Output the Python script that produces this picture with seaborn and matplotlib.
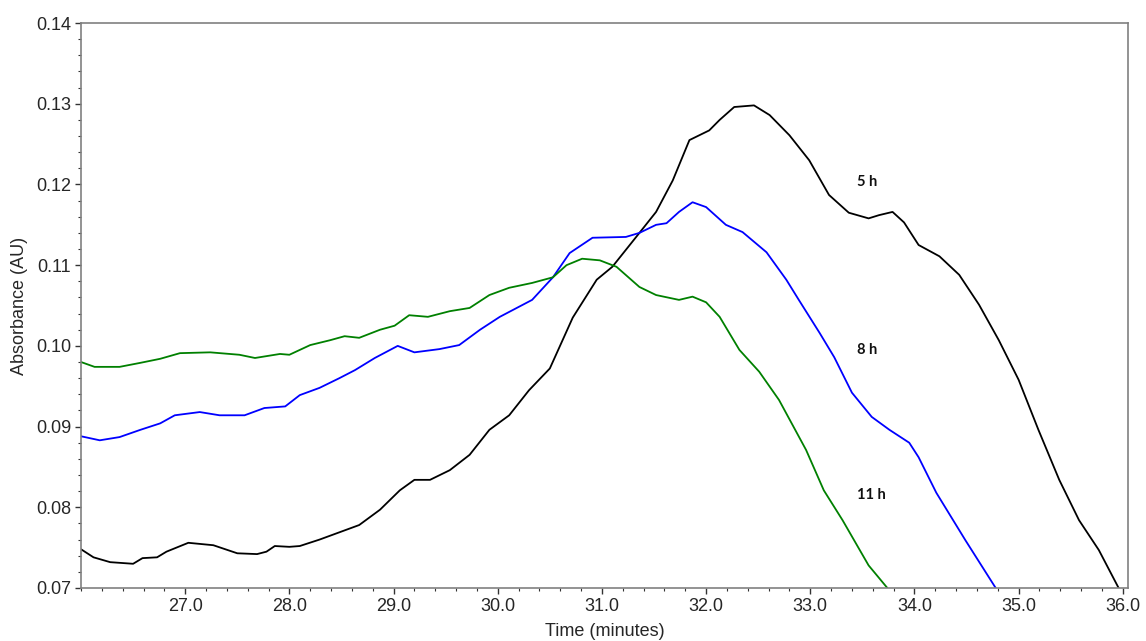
import numpy as np
import pandas as pd
import matplotlib
matplotlib.use("Agg")
import matplotlib.pyplot as plt
from matplotlib.ticker import MultipleLocator, FormatStrFormatter
import seaborn as sns

# Elution profiles (time in minutes, absorbance in AU)
time_5h = [26.00, 26.12, 26.28, 26.50, 26.59, 26.73, 26.82, 27.03, 27.27, 27.50,
           27.69, 27.78, 27.86, 28.00, 28.10, 28.29, 28.48, 28.67, 28.87, 29.06,
           29.20, 29.35, 29.54, 29.73, 29.92, 30.11, 30.30, 30.50, 30.72, 30.95,
           31.10, 31.36, 31.52, 31.68, 31.84, 32.03, 32.13, 32.27, 32.46, 32.61,
           32.80, 32.99, 33.18, 33.37, 33.56, 33.66, 33.79, 33.90, 34.04, 34.24,
           34.43, 34.62, 34.81, 35.00, 35.19, 35.39, 35.58, 35.77, 35.96]
abs_5h = [0.0748, 0.0738, 0.0732, 0.0730, 0.0737, 0.0738, 0.0745, 0.0756, 0.0753, 0.0743,
          0.0742, 0.0745, 0.0752, 0.0751, 0.0752, 0.0760, 0.0769, 0.0778, 0.0797, 0.0821,
          0.0834, 0.0834, 0.0846, 0.0865, 0.0896, 0.0914, 0.0945, 0.0972, 0.1035, 0.1082,
          0.1098, 0.1140, 0.1166, 0.1205, 0.1255, 0.1267, 0.1280, 0.1296, 0.1298, 0.1286,
          0.1261, 0.1230, 0.1187, 0.1165, 0.1158, 0.1162, 0.1166, 0.1153, 0.1125, 0.1111,
          0.1088, 0.1051, 0.1007, 0.0958, 0.0896, 0.0834, 0.0784, 0.0747, 0.0700]

time_8h = [26.00, 26.18, 26.37, 26.57, 26.76, 26.90, 27.14, 27.33, 27.57, 27.76,
           27.96, 28.10, 28.29, 28.48, 28.63, 28.82, 29.04, 29.20, 29.44, 29.63,
           29.83, 30.02, 30.33, 30.53, 30.69, 30.91, 31.23, 31.36, 31.52, 31.62,
           31.74, 31.87, 32.00, 32.19, 32.35, 32.58, 32.77, 32.89, 33.09, 33.23,
           33.40, 33.59, 33.76, 33.95, 34.04, 34.21, 34.49, 34.78]
abs_8h = [0.0888, 0.0883, 0.0887, 0.0896, 0.0904, 0.0914, 0.0918, 0.0914, 0.0914, 0.0923,
          0.0925, 0.0939, 0.0948, 0.0960, 0.0970, 0.0985, 0.1000, 0.0992, 0.0996, 0.1001,
          0.1020, 0.1036, 0.1057, 0.1085, 0.1115, 0.1134, 0.1135, 0.1140, 0.1150, 0.1152,
          0.1166, 0.1178, 0.1172, 0.1150, 0.1141, 0.1116, 0.1082, 0.1057, 0.1016, 0.0986,
          0.0942, 0.0912, 0.0896, 0.0880, 0.0862, 0.0818, 0.0759, 0.0700]

time_11h = [26.00, 26.13, 26.37, 26.57, 26.76, 26.95, 27.24, 27.52, 27.67, 27.91,
            28.00, 28.20, 28.39, 28.53, 28.67, 28.87, 29.01, 29.15, 29.33, 29.54,
            29.73, 29.92, 30.11, 30.33, 30.53, 30.66, 30.81, 30.98, 31.14, 31.36,
            31.52, 31.74, 31.87, 32.00, 32.13, 32.32, 32.51, 32.70, 32.96, 33.13,
            33.31, 33.56, 33.74]
abs_11h = [0.0980, 0.0974, 0.0974, 0.0979, 0.0984, 0.0991, 0.0992, 0.0989, 0.0985, 0.0990,
           0.0989, 0.1001, 0.1007, 0.1012, 0.1010, 0.1020, 0.1025, 0.1038, 0.1036, 0.1043,
           0.1047, 0.1063, 0.1072, 0.1078, 0.1085, 0.1100, 0.1108, 0.1106, 0.1098, 0.1073,
           0.1063, 0.1057, 0.1061, 0.1054, 0.1036, 0.0995, 0.0968, 0.0933, 0.0871, 0.0821,
           0.0784, 0.0728, 0.0700]

series_names = ["5 h", "8 h", "11 h"]
series_colors = ["#000000", "#0000ff", "#008000"]
label_x = [33.45, 33.45, 33.45]
label_y = [0.1203, 0.0995, 0.0815]
x_ticks = [27.0, 28.0, 29.0, 30.0, 31.0, 32.0, 33.0, 34.0, 35.0, 36.0]
y_ticks = [0.07, 0.08, 0.09, 0.10, 0.11, 0.12, 0.13, 0.14]

df = pd.concat([
    pd.DataFrame({"time": time_5h, "absorbance": abs_5h, "sample": "5 h"}),
    pd.DataFrame({"time": time_8h, "absorbance": abs_8h, "sample": "8 h"}),
    pd.DataFrame({"time": time_11h, "absorbance": abs_11h, "sample": "11 h"}),
], ignore_index=True)

sns.set_style("white")
plt.rcParams["font.family"] = ["Liberation Sans", "DejaVu Sans"]

fig = plt.figure(figsize=(11.46, 6.41), dpi=100)
ax = fig.add_axes([0.0707, 0.0827, 0.9136, 0.8813])

sns.lineplot(data=df, x="time", y="absorbance", hue="sample",
             hue_order=series_names, palette=series_colors,
             estimator=None, sort=False, linewidth=1.3, legend=False, ax=ax)

for name, xx, yy in zip(series_names, label_x, label_y):
    ax.text(xx, yy, name, fontsize=10.5, fontweight="bold",
            family=["Lato", "DejaVu Sans"], ha="left", va="center", color="#111111")

ax.set_xlim(26.0, 36.05)
ax.set_ylim(0.07, 0.14)
ax.set_xticks(x_ticks)
ax.set_yticks(y_ticks)
ax.xaxis.set_major_formatter(FormatStrFormatter("%.1f"))
ax.yaxis.set_major_formatter(FormatStrFormatter("%.2f"))
ax.xaxis.set_minor_locator(MultipleLocator(0.2))
ax.yaxis.set_minor_locator(MultipleLocator(0.002))
ax.tick_params(axis="both", which="major", direction="out", length=4, width=1,
               color="#333333", labelsize=13, pad=3, bottom=True, left=True)
ax.tick_params(axis="both", which="minor", direction="out", length=2.5, width=0.8,
               color="#333333", bottom=True, left=True)

for side in ["left", "right", "top", "bottom"]:
    ax.spines[side].set_visible(True)
    ax.spines[side].set_color("#808080")
    ax.spines[side].set_linewidth(1.2)

ax.set_xlabel("Time (minutes)", fontsize=13, labelpad=6)
ax.set_ylabel("Absorbance (AU)", fontsize=13, labelpad=6)

fig.savefig("out.png", dpi=100)
